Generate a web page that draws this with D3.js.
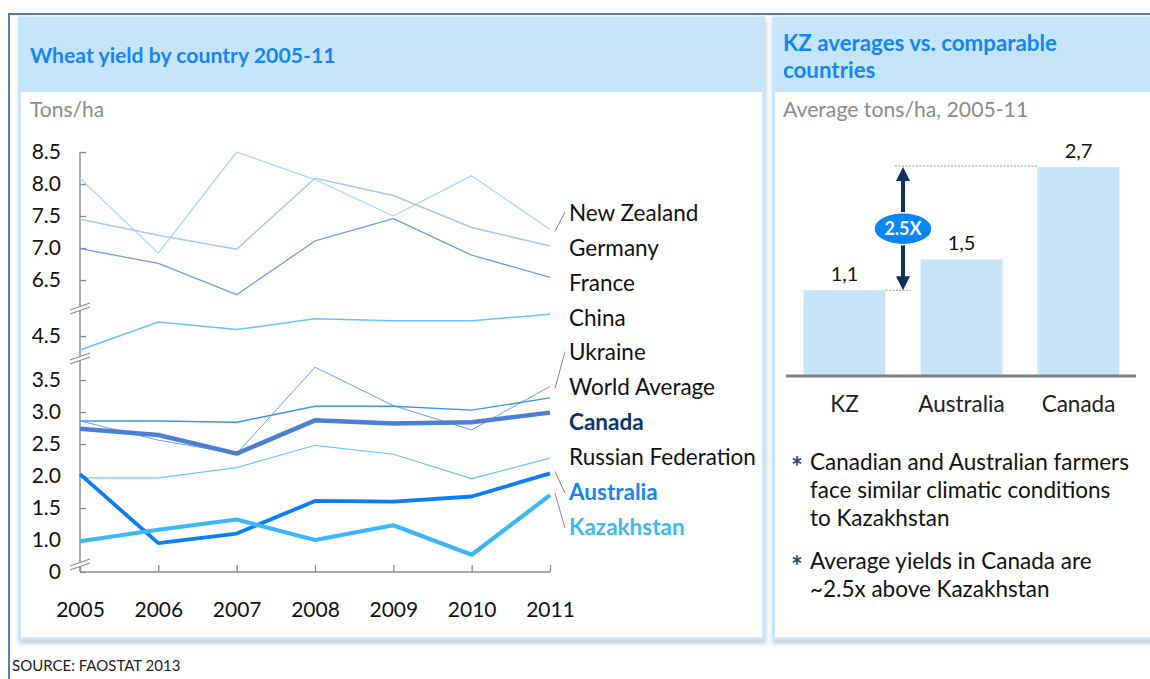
<!DOCTYPE html>
<html><head><meta charset="utf-8">
<script src="https://cdn.jsdelivr.net/npm/d3@7"></script>
<style>
html,body{margin:0;padding:0;background:#fff;}
svg{display:block;font-family:Lato,"Open Sans",sans-serif;}
</style></head>
<body>
<svg id="chart" width="1150" height="679"></svg>
<script>
// ---------- data ----------
const years = [2005, 2006, 2007, 2008, 2009, 2010, 2011];
const newZealand   = [8.09, 6.92, 8.50, 8.07, 7.50, 8.13, 7.29];
const germany      = [7.45, 7.20, 6.98, 8.09, 7.82, 7.32, 7.03];
const france       = [6.99, 6.76, 6.27, 7.11, 7.46, 6.89, 6.54];
const china        = [4.28, 4.72, 4.60, 4.77, 4.74, 4.74, 4.84];
const ukraine      = [2.86, 2.56, 2.35, 3.70, 3.10, 2.72, 3.40];
const worldAverage = [2.86, 2.86, 2.84, 3.09, 3.09, 3.03, 3.22];
const canada       = [2.74, 2.64, 2.35, 2.87, 2.82, 2.84, 2.99];
const russia       = [1.97, 1.97, 2.13, 2.48, 2.34, 1.96, 2.28];
const australia    = [2.03, 0.95, 1.10, 1.61, 1.60, 1.68, 2.04];
const kazakhstan   = [0.98, 1.16, 1.32, 1.00, 1.23, 0.77, 1.70];

const seriesNames = ["New Zealand","Germany","France","China","Ukraine","World Average","Canada","Russian Federation","Australia","Kazakhstan"];
const yTickValues = [0, 1.0, 1.5, 2.0, 2.5, 3.0, 3.5, 4.5, 6.5, 7.0, 7.5, 8.0, 8.5];
const yTickLabels = ["0","1.0","1.5","2.0","2.5","3.0","3.5","4.5","6.5","7.0","7.5","8.0","8.5"];

const barCategories = ["KZ", "Australia", "Canada"];
const barValues = [1.1, 1.5, 2.7];
const barLabels = ["1,1", "1,5", "2,7"];

const bullets = [
  ["Canadian and Australian farmers", "face similar climatic conditions", "to Kazakhstan"],
  ["Average yields in Canada are", "~2.5x above Kazakhstan"]
];

// ---------- styling ----------
const seriesStyle = {
  "New Zealand":        {color:"#a6dafa", w:1.3},
  "Germany":            {color:"#a9c7ee", w:1.5},
  "France":             {color:"#6f9de0", w:1.3},
  "China":              {color:"#6cc3f4", w:1.5},
  "Ukraine":            {color:"#6b9fe6", w:1.0},
  "World Average":      {color:"#3b95ee", w:1.4},
  "Canada":             {color:"#4a7fd2", w:4.5},
  "Russian Federation": {color:"#6cc4f6", w:1.2},
  "Australia":          {color:"#0a7ff5", w:3.8},
  "Kazakhstan":         {color:"#3db6f6", w:4.2}
};
const labelStyle = {
  "Canada": {color:"#0c3468", weight:"bold"},
  "Australia": {color:"#1784f4", weight:"bold"},
  "Kazakhstan": {color:"#3fb8f6", weight:"bold"}
};
const seriesData = [newZealand, germany, france, china, ukraine, worldAverage, canada, russia, australia, kazakhstan];

const svg = d3.select("#chart");
const defs = svg.append("defs");
const f = defs.append("filter").attr("id","shadow").attr("x","-5%").attr("y","-5%").attr("width","110%").attr("height","115%");
f.append("feDropShadow").attr("dx",1).attr("dy",3).attr("stdDeviation",2).attr("flood-color","#9aa3ab").attr("flood-opacity",0.6);

// outer frame
svg.append("line").attr("x1",8).attr("x2",1150).attr("y1",14).attr("y2",14).attr("stroke","#4b7fc0").attr("stroke-width",2);
svg.append("line").attr("x1",9).attr("x2",9).attr("y1",13).attr("y2",679).attr("stroke","#4b7fc0").attr("stroke-width",2);

// panels
function panel(x, w){
  svg.append("rect").attr("x",x).attr("y",18).attr("width",w).attr("height",621)
    .attr("fill","#fff").attr("stroke","#c8e5f9").attr("stroke-width",3).attr("filter","url(#shadow)");
  svg.append("rect").attr("x",x).attr("y",18).attr("width",w).attr("height",74).attr("fill","#c7e5f9");
}
panel(19.5, 744);
panel(773.5, 390);

// titles
svg.append("text").attr("x",30).attr("y",63).text("Wheat yield by country 2005-11")
  .attr("font-size",21.2).attr("font-weight","bold").attr("fill","#1585f5");
svg.append("text").attr("x",30).attr("y",117).text("Tons/ha").attr("font-size",21).attr("fill","#8a8a8a");

const rt = svg.append("text").attr("font-size",22.3).attr("font-weight","bold").attr("fill","#1585f5");
rt.append("tspan").attr("x",783).attr("y",51).text("KZ averages vs. comparable");
rt.append("tspan").attr("x",783).attr("y",78).text("countries");
svg.append("text").attr("x",783).attr("y",117).text("Average tons/ha, 2005-11").attr("font-size",21.2).attr("fill","#8a8a8a");

// ---------- line chart ----------
const x = d3.scalePoint().domain(years).range([80, 550]);
const y = d3.scaleLinear()
  .domain([0, 0.7, 3.8, 4.2, 5.0, 6.2, 8.5])
  .range([572, 559.2, 360.8, 355.2, 304, 299.2, 152]);

// y axis
const yAxis = d3.axisLeft(y).tickValues(yTickValues)
  .tickFormat((d,i)=>yTickLabels[i]).tickSize(-6).tickPadding(19);
const gy = svg.append("g").attr("transform","translate(80,0)").call(yAxis);
gy.select(".domain").attr("stroke","#8c8c8c").attr("stroke-width",1.5).attr("d","M0,"+y(8.5)+"V"+y(0));
gy.selectAll(".tick line").attr("stroke","#8c8c8c").attr("stroke-width",1.3);
gy.selectAll(".tick text").attr("font-size",21).attr("fill","#111").attr("font-family","Lato");

// x axis
const xAxis = d3.axisBottom(x).tickSize(-7).tickPadding(30);
const gx = svg.append("g").attr("transform","translate(0,572)").call(xAxis);
gx.select(".domain").attr("stroke","#8c8c8c").attr("stroke-width",1.5).attr("d","M80,0H550");
gx.selectAll(".tick line").attr("stroke","#8c8c8c").attr("stroke-width",1.3);
gx.selectAll(".tick text").attr("font-size",21).attr("fill","#111").attr("font-family","Lato");

// axis breaks
const breaks = [(y(6.5)+y(4.5))/2, (y(4.5)+y(3.5))/2, y(0)-8];
breaks.forEach(by=>{
  svg.append("polygon").attr("points",`70,${by+2} 90,${by-5} 90,${by-1} 70,${by+6}`).attr("fill","#fff");
  svg.append("line").attr("x1",70).attr("x2",90).attr("y1",by+2).attr("y2",by-5).attr("stroke","#8c8c8c").attr("stroke-width",1.2);
  svg.append("line").attr("x1",70).attr("x2",90).attr("y1",by+6).attr("y2",by-1).attr("stroke","#8c8c8c").attr("stroke-width",1.2);
});

// lines
const line = d3.line().x((d,i)=>x(years[i])).y(d=>y(d));
seriesNames.forEach((name,i)=>{
  svg.append("path").datum(seriesData[i]).attr("d",line)
    .attr("fill","none").attr("stroke",seriesStyle[name].color)
    .attr("stroke-width",seriesStyle[name].w).attr("stroke-linejoin","round");
});

// series labels
const labelY = d3.scalePoint().domain(seriesNames).range([213, 527]);
seriesNames.forEach(name=>{
  const st = labelStyle[name] || {color:"#111", weight:"normal"};
  svg.append("text").attr("x",569).attr("y",labelY(name)).attr("dy","0.35em").text(name)
    .attr("font-size",22.5).attr("fill",st.color).attr("font-weight",st.weight);
});
// leader lines
const leaders = [
  ["New Zealand", newZealand], ["Ukraine", ukraine], ["Australia", australia], ["Kazakhstan", kazakhstan]
];
leaders.forEach(([name, arr])=>{
  const y0 = y(arr[arr.length-1]);
  const y1 = labelY(name);
  const dir = y1 > y0 ? -1 : 1;
  svg.append("line").attr("x1",555).attr("y1",y0 - dir*(-2)).attr("x2",565).attr("y2",y1 + dir*(-1))
    .attr("stroke","#777").attr("stroke-width",0.9);
});

// ---------- bar chart ----------
const xb = d3.scaleBand().domain(barCategories).range([786, 1137]).paddingInner(0.3).paddingOuter(0.15);
const yb = d3.scaleLinear().domain([0, 2.7]).range([375, 167]);

svg.selectAll(".bar").data(barValues).enter().append("rect")
  .attr("x",(d,i)=>xb(barCategories[i])).attr("width",xb.bandwidth())
  .attr("y",d=>yb(d)).attr("height",d=>yb(0)-yb(d)).attr("fill","#c6e4f8");
svg.selectAll(".barlab").data(barValues).enter().append("text")
  .attr("x",(d,i)=>xb(barCategories[i])+xb.bandwidth()/2).attr("y",d=>yb(d)-9)
  .attr("text-anchor","middle").attr("font-size",20).attr("fill","#111").text((d,i)=>barLabels[i]);
svg.append("line").attr("x1",786).attr("x2",1136).attr("y1",yb(0)+1).attr("y2",yb(0)+1).attr("stroke","#808080").attr("stroke-width",3);
svg.selectAll(".cat").data(barCategories).enter().append("text")
  .attr("x",d=>xb(d)+xb.bandwidth()/2).attr("y",404).attr("dy","0.35em")
  .attr("text-anchor","middle").attr("font-size",22.5).attr("fill","#222").text(d=>d);

// comparison arrow
const ax = (xb("KZ")+xb.bandwidth()+xb("Australia"))/2;
const yTop = yb(barValues[2]), yBot = yb(barValues[0]);
svg.append("line").attr("x1",ax-8).attr("x2",xb("Canada")).attr("y1",yTop-1).attr("y2",yTop-1)
  .attr("stroke","#888").attr("stroke-width",0.9).attr("stroke-dasharray","2,1.5");
svg.append("line").attr("x1",xb("KZ")+xb.bandwidth()).attr("x2",ax+8).attr("y1",yBot).attr("y2",yBot)
  .attr("stroke","#888").attr("stroke-width",0.9).attr("stroke-dasharray","2,1.5");
svg.append("line").attr("x1",ax).attr("x2",ax).attr("y1",yTop+12).attr("y2",yBot-12).attr("stroke","#0f2f5e").attr("stroke-width",4);
svg.append("polygon").attr("points",`${ax},${yTop} ${ax-7},${yTop+14} ${ax+7},${yTop+14}`).attr("fill","#0f2f5e");
svg.append("polygon").attr("points",`${ax},${yBot} ${ax-7},${yBot-14} ${ax+7},${yBot-14}`).attr("fill","#0f2f5e");
const ym = (yTop+yBot)/2;
svg.append("ellipse").attr("cx",ax).attr("cy",ym).attr("rx",29).attr("ry",16).attr("fill","#0c86f6").attr("stroke","#fff").attr("stroke-width",1.5);
svg.append("text").attr("x",ax).attr("y",ym).attr("dy","0.36em").attr("text-anchor","middle")
  .attr("font-size",18).attr("font-weight","bold").attr("fill","#fff").text("2.5X");

// bullets
let by = 462;
bullets.forEach(lines=>{
  svg.append("text").attr("x",791).attr("y",by).attr("dy","0.55em").attr("font-size",28).attr("font-weight","bold").attr("fill","#1f4f86").text("*");
  lines.forEach((t,j)=>{
    svg.append("text").attr("x",810).attr("y",by + j*28).attr("dy","0.35em").attr("font-size",22.5).attr("fill","#111").text(t);
  });
  by += lines.length*28 + 15;
});

// source
svg.append("text").attr("x",12).attr("y",671).attr("font-size",15).attr("fill","#222").text("SOURCE: FAOSTAT 2013");
</script>
</body></html>
